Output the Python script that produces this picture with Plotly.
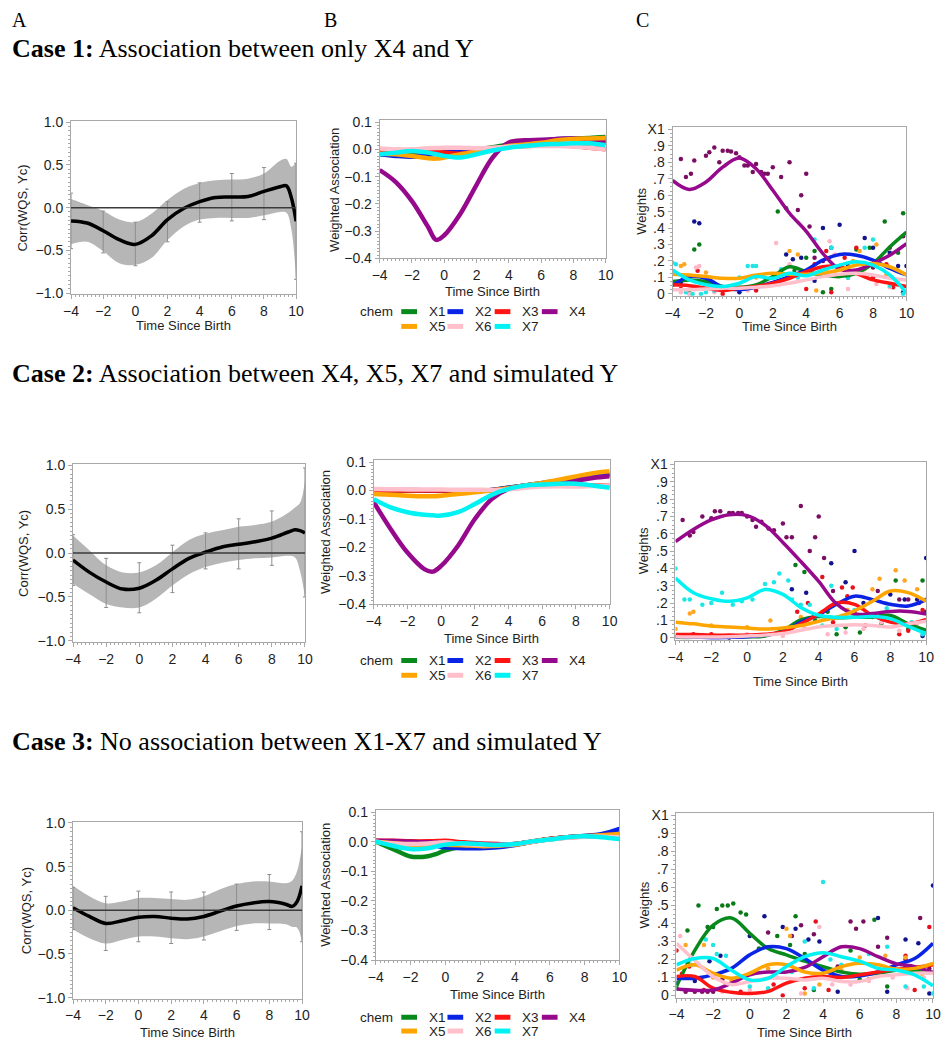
import plotly.graph_objects as go

# the page body keeps its default 8px margin, so the figure is drawn 16px smaller
PAGE_PAD = 8
W, H = 949 - 2 * PAGE_PAD, 1050 - 2 * PAGE_PAD

# ---------------- data ----------------
chems = ["X1", "X2", "X3", "X4", "X5", "X6", "X7"]
line_colors = ["#07891c", "#0a24e6", "#ff1414", "#96088c", "#ffa500", "#ffc0cb", "#00f2f2"]
dot_colors = ["#0a7a18", "#12148f", "#e8101a", "#7a0f62", "#ffa522", "#ffb6c6", "#1ee6e6"]

# column A: correlation of WQS with Yc
t_a = [-4, -3, -2, -1, 0, 1, 2, 3, 4, 5, 6, 7, 8, 9, 9.4, 9.7, 10]
a1_mean = [-0.155, -0.18, -0.27, -0.375, -0.43, -0.33, -0.14, -0.01, 0.07, 0.12, 0.125, 0.13, 0.19, 0.245, 0.255, 0.12, -0.16]
a1_upper = [0.1, 0.03, -0.04, -0.14, -0.17, -0.07, 0.09, 0.22, 0.29, 0.32, 0.33, 0.34, 0.4, 0.55, 0.57, 0.48, 0.53]
a1_lower = [-0.43, -0.4, -0.51, -0.65, -0.67, -0.59, -0.38, -0.22, -0.14, -0.12, -0.12, -0.12, -0.09, -0.05, -0.06, -0.25, -0.84]
a2_mean = [-0.08, -0.22, -0.33, -0.41, -0.4, -0.31, -0.18, -0.06, 0.01, 0.07, 0.10, 0.13, 0.17, 0.24, 0.265, 0.255, 0.23]
a2_upper = [0.2, 0.03, -0.14, -0.22, -0.22, -0.14, 0.01, 0.15, 0.22, 0.26, 0.3, 0.32, 0.36, 0.46, 0.52, 0.57, 0.83]
a2_lower = [-0.35, -0.47, -0.58, -0.62, -0.62, -0.52, -0.37, -0.24, -0.16, -0.11, -0.08, -0.06, -0.05, -0.03, -0.05, -0.2, -0.5]
a3_mean = [0.03, -0.07, -0.15, -0.12, -0.08, -0.07, -0.09, -0.1, -0.07, -0.01, 0.05, 0.085, 0.1, 0.07, 0.045, 0.1, 0.28]
a3_upper = [0.28, 0.16, 0.08, 0.1, 0.14, 0.14, 0.13, 0.12, 0.16, 0.24, 0.3, 0.33, 0.33, 0.31, 0.34, 0.45, 0.74]
a3_lower = [-0.22, -0.32, -0.38, -0.34, -0.3, -0.3, -0.32, -0.33, -0.3, -0.24, -0.18, -0.15, -0.15, -0.16, -0.19, -0.2, -0.36]

t_bar = [-4, -2, 0, 2, 4, 6, 8, 10]
a1_bar_hi = [0.17, -0.04, -0.17, 0.07, 0.29, 0.4, 0.47, 0.52]
a1_bar_lo = [-0.48, -0.53, -0.68, -0.4, -0.17, -0.155, -0.14, -0.84]
a2_bar_hi = [0.21, -0.06, -0.11, 0.09, 0.23, 0.39, 0.48, 0.97]
a2_bar_lo = [-0.37, -0.62, -0.68, -0.45, -0.18, -0.18, -0.14, -0.5]
a3_bar_hi = [0.26, 0.16, 0.22, 0.21, 0.21, 0.3, 0.41, 0.9]
a3_bar_lo = [-0.22, -0.46, -0.36, -0.38, -0.34, -0.23, -0.22, -0.36]

# column B: weighted association per chemical
t_b = [-4, -3, -2, -1, -0.5, 0, 1, 2, 3, 4, 5, 6, 7, 8, 9, 10]
b1_x1 = [-0.016, -0.021, -0.021, -0.016, -0.011, -0.006, -0.004, 0, 0.008, 0.018, 0.028, 0.033, 0.036, 0.04, 0.042, 0.045]
b1_x2 = [-0.018, -0.024, -0.027, -0.021, -0.016, -0.012, -0.006, -0.004, 0.002, 0.012, 0.021, 0.03, 0.038, 0.038, 0.03, 0.024]
b1_x3 = [-0.006, -0.004, -0.006, -0.008, -0.01, -0.012, -0.016, -0.006, 0.004, 0.01, 0.012, 0.015, 0.016, 0.012, 0.006, 0]
b1_x4 = [-0.076, -0.12, -0.19, -0.285, -0.332, -0.315, -0.236, -0.13, -0.03, 0.025, 0.033, 0.035, 0.038, 0.04, 0.036, 0.03]
b1_x5 = [-0.016, -0.018, -0.024, -0.033, -0.034, -0.03, -0.018, -0.01, 0, 0.012, 0.018, 0.024, 0.033, 0.038, 0.04, 0.042]
b1_x6 = [0.003, 0, 0, 0.004, 0.005, 0.006, 0.006, 0.004, 0.006, 0.01, 0.012, 0.012, 0.012, 0.01, 0.006, 0]
b1_x7 = [-0.018, -0.012, -0.006, -0.012, -0.018, -0.024, -0.03, -0.018, -0.004, 0.006, 0.012, 0.018, 0.02, 0.022, 0.022, 0.015]

b2_x1 = [0, 0, 0, 0, 0, 0, 0, 0, 0.002, 0.01, 0.018, 0.025, 0.032, 0.04, 0.048, 0.055]
b2_x2 = [0.002, 0.002, 0.002, 0.001, 0, 0, 0, 0, 0.002, 0.01, 0.018, 0.027, 0.035, 0.042, 0.051, 0.059]
b2_x3 = [0, 0, 0, 0, 0, 0, 0, 0, 0.001, 0.008, 0.015, 0.018, 0.02, 0.02, 0.018, 0.018]
b2_x4 = [-0.041, -0.135, -0.218, -0.276, -0.285, -0.265, -0.194, -0.1, -0.03, 0.006, 0.018, 0.024, 0.03, 0.035, 0.044, 0.05]
b2_x5 = [-0.012, -0.015, -0.018, -0.02, -0.02, -0.018, -0.012, -0.006, 0, 0.008, 0.018, 0.027, 0.038, 0.05, 0.061, 0.068]
b2_x6 = [0.006, 0.005, 0.004, 0.004, 0.004, 0.004, 0.003, 0.003, 0.002, 0.004, 0.01, 0.014, 0.015, 0.014, 0.016, 0.018]
b2_x7 = [-0.03, -0.059, -0.076, -0.085, -0.087, -0.088, -0.076, -0.047, -0.015, 0.006, 0.018, 0.021, 0.024, 0.024, 0.018, 0.01]

b3_x1 = [0, -0.025, -0.05, -0.049, -0.041, -0.029, -0.017, -0.014, -0.014, -0.008, 0.001, 0.009, 0.015, 0.019, 0.02, 0.02]
b3_x2 = [0, 0, 0, -0.008, -0.014, -0.019, -0.022, -0.022, -0.019, -0.011, 0, 0.009, 0.015, 0.019, 0.026, 0.043]
b3_x3 = [0.003, 0.003, 0.001, 0.001, 0.002, 0.003, -0.002, -0.006, -0.008, -0.008, 0, 0.009, 0.015, 0.018, 0.018, 0.017]
b3_x4 = [0.003, 0.002, 0, -0.002, -0.003, -0.004, -0.006, -0.008, -0.01, -0.008, 0, 0.008, 0.014, 0.018, 0.022, 0.025]
b3_x5 = [0, -0.005, -0.01, -0.01, -0.01, -0.01, -0.012, -0.015, -0.014, -0.01, 0, 0.008, 0.014, 0.018, 0.022, 0.026]
b3_x6 = [0, -0.006, -0.008, -0.006, -0.004, -0.002, -0.008, -0.011, -0.011, -0.008, 0, 0.007, 0.013, 0.017, 0.017, 0.015]
b3_x7 = [0, -0.014, -0.025, -0.022, -0.016, -0.01, -0.005, -0.008, -0.011, -0.008, 0.001, 0.007, 0.015, 0.018, 0.015, 0.009]

# column C: smoothed weights per chemical
t_c = [-4, -3, -2, -1, 0, 1, 2, 3, 4, 5, 6, 7, 8, 9, 10]
c1_x1 = [0.075, 0.085, 0.075, 0.045, 0.04, 0.055, 0.105, 0.165, 0.135, 0.115, 0.105, 0.125, 0.185, 0.285, 0.375]
c1_x2 = [0.05, 0.105, 0.095, 0.04, 0.025, 0.04, 0.07, 0.105, 0.145, 0.205, 0.24, 0.235, 0.205, 0.155, 0.115]
c1_x3 = [0.055, 0.05, 0.035, 0.02, 0.035, 0.045, 0.065, 0.095, 0.135, 0.165, 0.165, 0.125, 0.085, 0.065, 0.045]
c1_x4 = [0.69, 0.635, 0.68, 0.77, 0.825, 0.76, 0.63, 0.49, 0.38, 0.245, 0.15, 0.145, 0.185, 0.235, 0.305]
c1_x5 = [0.12, 0.115, 0.105, 0.095, 0.095, 0.115, 0.125, 0.12, 0.12, 0.125, 0.145, 0.175, 0.185, 0.165, 0.115]
c1_x6 = [0.025, 0.025, 0.03, 0.035, 0.035, 0.04, 0.05, 0.065, 0.085, 0.105, 0.12, 0.125, 0.115, 0.095, 0.085]
c1_x7 = [0.145, 0.085, 0.055, 0.045, 0.065, 0.105, 0.095, 0.125, 0.11, 0.145, 0.175, 0.195, 0.175, 0.115, 0.005]

c2_x1 = [0.002, 0.002, 0.004, 0.006, 0.006, 0.01, 0.043, 0.103, 0.122, 0.115, 0.118, 0.12, 0.128, 0.08, 0.043]
c2_x2 = [0.006, 0.004, 0.0, 0.002, 0.006, 0.015, 0.034, 0.09, 0.133, 0.193, 0.24, 0.22, 0.193, 0.183, 0.22]
c2_x3 = [0.019, 0.018, 0.015, 0.015, 0.015, 0.02, 0.033, 0.08, 0.137, 0.2, 0.193, 0.128, 0.09, 0.08, 0.105]
c2_x4 = [0.555, 0.625, 0.68, 0.71, 0.705, 0.65, 0.55, 0.44, 0.325, 0.195, 0.137, 0.14, 0.152, 0.152, 0.137]
c2_x5 = [0.09, 0.08, 0.068, 0.062, 0.056, 0.05, 0.056, 0.07, 0.095, 0.118, 0.155, 0.21, 0.27, 0.26, 0.21]
c2_x6 = [0.006, 0.004, 0.004, 0.006, 0.01, 0.015, 0.024, 0.043, 0.062, 0.07, 0.075, 0.07, 0.062, 0.08, 0.095]
c2_x7 = [0.345, 0.26, 0.225, 0.21, 0.23, 0.278, 0.25, 0.175, 0.13, 0.118, 0.118, 0.122, 0.11, 0.066, 0.025]

c3_x1 = [0.05, 0.25, 0.39, 0.43, 0.345, 0.26, 0.225, 0.19, 0.16, 0.13, 0.118, 0.123, 0.14, 0.14, 0.127]
c3_x2 = [0.095, 0.095, 0.114, 0.15, 0.225, 0.27, 0.26, 0.205, 0.14, 0.105, 0.108, 0.13, 0.17, 0.205, 0.29]
c3_x3 = [0.105, 0.105, 0.04, 0.017, 0.01, 0.022, 0.068, 0.095, 0.105, 0.1, 0.114, 0.13, 0.145, 0.155, 0.17]
c3_x4 = [0.035, 0.028, 0.03, 0.068, 0.114, 0.13, 0.13, 0.155, 0.215, 0.27, 0.26, 0.215, 0.175, 0.16, 0.127]
c3_x5 = [0.14, 0.17, 0.123, 0.095, 0.123, 0.17, 0.17, 0.13, 0.123, 0.16, 0.178, 0.17, 0.145, 0.15, 0.178]
c3_x6 = [0.29, 0.195, 0.105, 0.06, 0.077, 0.095, 0.095, 0.086, 0.095, 0.077, 0.077, 0.105, 0.114, 0.123, 0.123]
c3_x7 = [0.17, 0.205, 0.205, 0.14, 0.086, 0.095, 0.16, 0.215, 0.237, 0.215, 0.19, 0.15, 0.14, 0.114, 0.053]

# column C: raw weights (time, weight)
c1_pts_x1 = [(-3.0, 0.02), (-2.7, 0.27), (-2.4, 0.30), (2.3, 0.50), (2.8, 0.52), (3.3, 0.14), (4.0, 0.22), (4.5, 0.26), (5.0, 0.01), (5.5, 0.03), (6.5, 0.10), (7.0, 0.27), (7.8, 0.28), (8.7, 0.44), (9.5, 0.25), (9.8, 0.49)]
c1_pts_x2 = [(-3.5, 0.07), (-2.7, 0.44), (-2.4, 0.43), (-1.0, 0.02), (0.0, 0.01), (1.0, 0.05), (2.0, 0.06), (2.8, 0.24), (3.2, 0.21), (3.7, 0.22), (4.5, 0.08), (5.0, 0.40), (5.5, 0.28), (6.0, 0.42), (6.5, 0.17), (7.5, 0.34), (8.0, 0.28), (9.0, 0.25), (9.5, 0.17), (9.8, 0.01), (10.0, 0.17)]
c1_pts_x3 = [(-3.5, 0.03), (-2.5, 0.14), (-2.0, 0.07), (-1.0, 0.0), (1.0, 0.02), (3.0, 0.10), (4.0, 0.03), (4.5, 0.18), (5.2, 0.26), (5.5, 0.01), (6.3, 0.22), (7.0, 0.28), (7.3, 0.12), (8.0, 0.10), (8.8, 0.18), (9.2, 0.04)]
c1_pts_x4 = [(-3.5, 0.82), (-3.2, 0.71), (-2.9, 0.73), (-2.7, 0.81), (-2.0, 0.84), (-1.8, 0.86), (-1.5, 0.89), (-1.2, 0.80), (-1.0, 0.87), (-0.7, 0.87), (-0.5, 0.865), (-0.2, 0.855), (0.0, 0.83), (0.3, 0.78), (0.5, 0.78), (0.8, 0.74), (1.0, 0.79), (1.3, 0.74), (1.5, 0.73), (1.7, 0.73), (2.0, 0.77), (2.5, 0.71), (3.0, 0.80), (3.5, 0.51), (3.7, 0.60), (4.0, 0.73), (4.2, 0.41), (4.5, 0.22), (5.0, 0.20), (6.0, 0.17), (7.0, 0.13), (8.0, 0.16), (9.0, 0.28), (9.8, 0.35)]
c1_pts_x5 = [(-3.5, 0.17), (-3.3, 0.18), (-2.0, 0.13), (1.0, 0.10), (3.0, 0.26), (3.5, 0.24), (4.6, 0.02), (5.3, 0.13), (6.8, 0.20), (7.2, 0.26), (8.2, 0.30), (8.8, 0.12), (9.5, 0.14)]
c1_pts_x6 = [(-3.5, 0.01), (-3.0, 0.0), (-2.6, 0.16), (-2.4, 0.17), (-1.5, 0.01), (0.5, 0.02), (2.2, 0.31), (3.0, 0.18), (3.5, 0.13), (5.4, 0.32), (5.7, 0.24), (6.5, 0.03), (7.5, 0.15), (8.2, 0.06), (9.0, 0.04), (9.5, 0.08)]
c1_pts_x7 = [(-4.0, 0.19), (-3.8, 0.18), (-3.2, 0.01), (-2.8, 0.0), (-2.3, 0.0), (-2.0, 0.01), (-1.5, 0.02), (0.0, 0.10), (0.5, 0.17), (0.8, 0.17), (1.0, 0.17), (1.5, 0.10), (2.5, 0.15), (3.5, 0.10), (4.5, 0.33), (5.5, 0.28), (6.5, 0.10), (7.5, 0.28), (8.0, 0.33), (9.0, 0.05), (9.8, 0.0)]

c2_pts_x1 = [(2.7, 0.42), (3.2, 0.38), (3.8, 0.10), (4.5, 0.15), (5.0, 0.02), (5.5, 0.06), (6.3, 0.03), (7.0, 0.12), (7.5, 0.08), (8.3, 0.33), (9.0, 0.05), (9.8, 0.33)]
c2_pts_x2 = [(-1.0, 0.0), (2.5, 0.28), (3.3, 0.26), (4.7, 0.43), (5.5, 0.32), (6.0, 0.50), (6.5, 0.20), (7.5, 0.13), (8.0, 0.25), (8.8, 0.22), (9.5, 0.22), (9.8, 0.01), (10.0, 0.46)]
c2_pts_x3 = [(-3.0, 0.02), (-2.0, 0.02), (2.8, 0.15), (3.4, 0.20), (4.2, 0.35), (4.8, 0.09), (5.3, 0.29), (5.6, 0.24), (5.9, 0.29), (6.6, 0.07), (8.5, 0.02), (9.0, 0.04), (9.8, 0.16)]
c2_pts_x4 = [(-3.6, 0.68), (-3.2, 0.59), (-3.0, 0.61), (-2.5, 0.70), (-2.0, 0.69), (-1.8, 0.73), (-1.5, 0.73), (-1.0, 0.72), (-0.8, 0.72), (-0.5, 0.72), (-0.3, 0.72), (0.0, 0.70), (0.3, 0.68), (0.5, 0.64), (0.8, 0.67), (1.2, 0.63), (1.5, 0.62), (2.0, 0.66), (2.2, 0.58), (2.5, 0.58), (3.0, 0.76), (3.5, 0.50), (3.8, 0.58), (4.0, 0.70), (4.3, 0.46), (4.8, 0.27), (6.0, 0.15), (7.3, 0.27), (8.5, 0.22), (9.0, 0.22), (9.6, 0.20), (10.0, 0.15)]
c2_pts_x5 = [(-4.0, 0.05), (-3.2, 0.14), (-3.0, 0.15), (-2.0, 0.07), (0.0, 0.06), (1.3, 0.10), (3.0, 0.12), (4.2, 0.15), (5.6, 0.16), (6.5, 0.13), (7.0, 0.28), (7.4, 0.34), (8.3, 0.39), (8.8, 0.33), (9.5, 0.28), (10.0, 0.22)]
c2_pts_x6 = [(-3.0, 0.01), (0.0, 0.02), (2.0, 0.01), (3.2, 0.06), (4.5, 0.02), (5.5, 0.03), (6.5, 0.05), (7.5, 0.09), (8.5, 0.04), (9.5, 0.08)]
c2_pts_x7 = [(-4.0, 0.40), (-3.5, 0.22), (-3.2, 0.22), (-2.5, 0.19), (-2.0, 0.20), (-1.4, 0.26), (-0.8, 0.19), (-0.3, 0.21), (0.3, 0.22), (1.0, 0.31), (1.5, 0.32), (1.8, 0.37), (2.3, 0.33), (2.5, 0.22), (3.0, 0.19), (3.5, 0.19), (4.2, 0.07), (4.7, 0.30), (5.0, 0.05), (6.0, 0.16), (7.8, 0.17), (8.5, 0.09), (9.2, 0.09), (9.8, 0.02)]

c3_pts_x1 = [(-4.0, 0.04), (-3.4, 0.36), (-2.8, 0.50), (-2.3, 0.38), (-2.0, 0.38), (-1.8, 0.48), (-1.5, 0.50), (-1.2, 0.50), (-0.9, 0.51), (-0.5, 0.46), (-0.2, 0.45), (0.5, 0.26), (1.5, 0.33), (2.2, 0.28), (2.5, 0.44), (3.0, 0.23), (3.5, 0.03), (4.5, 0.13), (5.5, 0.25), (6.0, 0.09), (6.8, 0.42), (7.5, 0.05), (8.5, 0.16), (9.5, 0.13)]
c3_pts_x2 = [(-4.0, 0.07), (-3.0, 0.08), (-2.2, 0.19), (-1.6, 0.22), (0.0, 0.33), (0.8, 0.44), (1.8, 0.38), (2.5, 0.37), (3.2, 0.31), (3.8, 0.30), (4.8, 0.02), (6.0, 0.11), (7.0, 0.43), (7.5, 0.02), (8.5, 0.31), (9.2, 0.29), (9.8, 0.01), (10.0, 0.61)]
c3_pts_x3 = [(-4.0, 0.25), (-3.7, 0.12), (-3.3, 0.16), (-2.5, 0.03), (-0.5, 0.02), (1.3, 0.06), (1.8, 0.0), (3.0, 0.04), (3.6, 0.41), (4.3, 0.03), (6.5, 0.09), (7.5, 0.14), (8.5, 0.22), (9.0, 0.03), (9.8, 0.38)]
c3_pts_x4 = [(-3.5, 0.02), (-3.0, 0.02), (-2.6, 0.02), (-2.3, 0.02), (-2.0, 0.02), (-1.5, 0.09), (1.0, 0.35), (2.3, 0.33), (2.8, 0.39), (3.5, 0.34), (4.8, 0.16), (5.5, 0.41), (5.8, 0.37), (6.2, 0.41), (7.0, 0.27), (7.5, 0.32), (8.5, 0.20), (9.3, 0.43), (9.8, 0.15)]
c3_pts_x5 = [(-3.5, 0.28), (-2.5, 0.28), (-2.0, 0.10), (-1.0, 0.08), (1.0, 0.15), (2.0, 0.37), (2.2, 0.33), (3.0, 0.01), (3.8, 0.06), (5.0, 0.14), (6.0, 0.21), (7.4, 0.22), (8.5, 0.21), (9.4, 0.12), (10.0, 0.17)]
c3_pts_x6 = [(-3.8, 0.33), (-3.0, 0.17), (-1.5, 0.02), (0.0, 0.03), (1.5, 0.10), (2.8, 0.01), (3.8, 0.38), (4.5, 0.06), (5.5, 0.06), (6.5, 0.08), (7.8, 0.10), (8.6, 0.04), (9.5, 0.10)]
c3_pts_x7 = [(-3.2, 0.17), (-2.4, 0.31), (-2.0, 0.28), (-1.8, 0.23), (-1.3, 0.22), (0.0, 0.05), (1.0, 0.04), (2.3, 0.13), (3.0, 0.30), (3.5, 0.04), (4.0, 0.63), (4.4, 0.20), (5.0, 0.17), (6.5, 0.23), (7.5, 0.27), (8.5, 0.05), (9.5, 0.05), (10.0, 0.01)]

headings = [
    "<b>Case 1:</b> Association between only X4 and Y",
    "<b>Case 2:</b> Association between X4, X5, X7 and simulated Y",
    "<b>Case 3:</b> No association between X1-X7 and simulated Y",
]

# ---------------- layout geometry (page pixels) ----------------
boxes = {
    1: (64, 293, 116, 291), 2: (378, 608, 115, 255), 3: (676, 914, 122, 293),
    4: (66, 302, 464, 644), 5: (372, 612, 460, 606), 6: (679, 934, 462, 642),
    7: (66, 299, 827, 1006), 8: (374, 622, 815, 967), 9: (680, 941, 818, 1005),
}
xtitle_y = {1: 323, 2: 289, 3: 324, 5: 641, 6: 684, 7: 1040, 8: 1002, 9: 1040}
ytitle_x = {1: 15, 2: 332, 3: 645, 4: 15, 5: 323, 6: 646, 7: 18, 8: 323, 9: 647}
heading_y = [42, 372, 745]
legend_rows = {2: (309, 324), 5: (663, 678), 8: (1025, 1039)}


def px(x):
    return (x - PAGE_PAD) / W


def py(y):
    return 1 - (y - PAGE_PAD) / H


SANS = "Liberation Sans, Arial, sans-serif"
SERIF = "Liberation Serif, Times New Roman, serif"
FRAME = "#a8a8a8"
TXT = "#1e1e1e"

fig = go.Figure()


def ax(i):
    return ("x" if i == 1 else f"x{i}"), ("y" if i == 1 else f"y{i}")


def add_corr_panel(i, mean, upper, lower, bar_lo, bar_hi):
    xa, ya = ax(i)
    fig.add_trace(go.Scatter(x=t_a, y=upper, mode="lines", line=dict(width=0, shape="spline"),
                             xaxis=xa, yaxis=ya, showlegend=False, hoverinfo="skip"))
    fig.add_trace(go.Scatter(x=t_a, y=lower, mode="lines", line=dict(width=0, shape="spline"),
                             fill="tonexty", fillcolor="#b6b6b6",
                             xaxis=xa, yaxis=ya, showlegend=False, hoverinfo="skip"))
    fig.add_trace(go.Scatter(
        x=t_bar, y=bar_lo, mode="markers", marker=dict(size=1, color="rgba(0,0,0,0)"),
        error_y=dict(type="data", symmetric=False,
                     array=[h - l for h, l in zip(bar_hi, bar_lo)],
                     arrayminus=[0] * len(bar_lo), color="#8e8e8e", thickness=1, width=2),
        xaxis=xa, yaxis=ya, showlegend=False, hoverinfo="skip"))
    fig.add_trace(go.Scatter(x=t_a, y=mean, mode="lines", name="Corr(WQS, Yc)",
                             line=dict(color="black", width=3.5, shape="spline"),
                             xaxis=xa, yaxis=ya, showlegend=False))
    fig.add_shape(type="line", xref=f"{xa} domain", yref=ya, x0=0, x1=1, y0=0, y1=0,
                  line=dict(color="#3a3a3a", width=1.5), layer="above")


def add_assoc_panel(i, series):
    xa, ya = ax(i)
    for name, col, vals in zip(chems, line_colors, series):
        fig.add_trace(go.Scatter(x=t_b, y=vals, mode="lines", name=name,
                                 line=dict(color=col, width=4.5, shape="spline"),
                                 xaxis=xa, yaxis=ya, showlegend=False))


def add_weight_panel(i, series, points):
    xa, ya = ax(i)
    for name, col, pts in zip(chems, dot_colors, points):
        fig.add_trace(go.Scatter(x=[p[0] for p in pts], y=[p[1] for p in pts], mode="markers",
                                 name=name, marker=dict(color=col, size=4.5),
                                 xaxis=xa, yaxis=ya, showlegend=False))
    for name, col, vals in zip(chems, line_colors, series):
        fig.add_trace(go.Scatter(x=t_c, y=vals, mode="lines", name=name,
                                 line=dict(color=col, width=3.5, shape="spline"),
                                 xaxis=xa, yaxis=ya, showlegend=False))


add_corr_panel(1, a1_mean, a1_upper, a1_lower, a1_bar_lo, a1_bar_hi)
add_corr_panel(4, a2_mean, a2_upper, a2_lower, a2_bar_lo, a2_bar_hi)
add_corr_panel(7, a3_mean, a3_upper, a3_lower, a3_bar_lo, a3_bar_hi)
add_assoc_panel(2, [b1_x1, b1_x2, b1_x3, b1_x4, b1_x5, b1_x6, b1_x7])
add_assoc_panel(5, [b2_x1, b2_x2, b2_x3, b2_x4, b2_x5, b2_x6, b2_x7])
add_assoc_panel(8, [b3_x1, b3_x2, b3_x3, b3_x4, b3_x5, b3_x6, b3_x7])
add_weight_panel(3, [c1_x1, c1_x2, c1_x3, c1_x4, c1_x5, c1_x6, c1_x7],
                 [c1_pts_x1, c1_pts_x2, c1_pts_x3, c1_pts_x4, c1_pts_x5, c1_pts_x6, c1_pts_x7])
add_weight_panel(6, [c2_x1, c2_x2, c2_x3, c2_x4, c2_x5, c2_x6, c2_x7],
                 [c2_pts_x1, c2_pts_x2, c2_pts_x3, c2_pts_x4, c2_pts_x5, c2_pts_x6, c2_pts_x7])
add_weight_panel(9, [c3_x1, c3_x2, c3_x3, c3_x4, c3_x5, c3_x6, c3_x7],
                 [c3_pts_x1, c3_pts_x2, c3_pts_x3, c3_pts_x4, c3_pts_x5, c3_pts_x6, c3_pts_x7])

# ---------------- axes ----------------
layout = {}
for i, (x0, x1, y0, y1) in boxes.items():
    xkey = "xaxis" if i == 1 else f"xaxis{i}"
    ykey = "yaxis" if i == 1 else f"yaxis{i}"
    xa, ya = ax(i)
    base = dict(showline=True, mirror=True, linecolor=FRAME, linewidth=1, showgrid=False,
                zeroline=False, ticks="outside", ticklen=4, tickcolor=FRAME,
                tickfont=dict(family=SANS, size=14, color=TXT))
    layout[xkey] = dict(base, domain=[px(x0), px(x1)], anchor=ya, range=[-4, 10],
                        tick0=0, dtick=2,
                        minor=dict(ticks="outside", ticklen=2, tickcolor=FRAME, dtick=0.25))
    kind = (i - 1) % 3
    if kind == 0:
        yextra = dict(range=[-1.01, 1.01], tick0=0, dtick=0.5, tickformat=".1f",
                      minor=dict(ticks="outside", ticklen=2, tickcolor=FRAME, dtick=0.05))
    elif kind == 1:
        yextra = dict(range=[-0.4, 0.106], tick0=0, dtick=0.1, tickformat=".1f",
                      minor=dict(ticks="outside", ticklen=2, tickcolor=FRAME, dtick=0.0125))
    else:
        yextra = dict(range=[-0.012, 1.012], tickmode="array",
                      tickvals=[0, 0.1, 0.2, 0.3, 0.4, 0.5, 0.6, 0.7, 0.8, 0.9, 1.0],
                      ticktext=["0", ".1", ".2", ".3", ".4", ".5", ".6", ".7", ".8", ".9", "X1"],
                      minor=dict(ticks="outside", ticklen=2, tickcolor=FRAME, dtick=0.025))
    layout[ykey] = dict(base, domain=[py(y1), py(y0)], anchor=xa, **yextra)

# ---------------- text ----------------
annotations = []
ytitles = ["Corr(WQS, Yc)", "Weighted Association", "Weights"]
for i, (x0, x1, y0, y1) in boxes.items():
    kind = (i - 1) % 3
    if i in xtitle_y:
        annotations.append(dict(text="Time Since Birth", xref="paper", yref="paper",
                                x=px((x0 + x1) / 2), y=py(xtitle_y[i]), showarrow=False,
                                xanchor="center", yanchor="middle",
                                font=dict(family=SANS, size=13, color=TXT)))
    annotations.append(dict(text=ytitles[kind], xref="paper", yref="paper", textangle=-90,
                            x=px(ytitle_x[i]), y=py((y0 + y1) / 2), showarrow=False,
                            xanchor="center", yanchor="middle",
                            font=dict(family=SANS, size=13, color=TXT)))

for lab, xp in zip(["A", "B", "C"], [2, 319, 637]):
    annotations.append(dict(text=lab, xref="paper", yref="paper", x=px(xp), y=py(13),
                            xanchor="left", yanchor="middle", showarrow=False,
                            font=dict(family=SERIF, size=20, color="black")))
for txt, yp in zip(headings, heading_y):
    annotations.append(dict(text=txt, xref="paper", yref="paper", x=px(2), y=py(yp),
                            xanchor="left", yanchor="middle", showarrow=False,
                            font=dict(family=SERIF, size=26, color="black")))

# manual "chem" legends under column B
shapes = []
entry_x = [400, 447, 495, 543]
for i, (r1, r2) in legend_rows.items():
    annotations.append(dict(text="chem", xref="paper", yref="paper", x=px(375), y=py(r1),
                            xanchor="center", yanchor="middle", showarrow=False,
                            font=dict(family=SANS, size=13.5, color=TXT)))
    for k, (name, col) in enumerate(zip(chems, line_colors)):
        row_y = r1 if k < 4 else r2
        sx = entry_x[k % 4]
        shapes.append(dict(type="line", xref="paper", yref="paper",
                           x0=px(sx), x1=px(sx + 16), y0=py(row_y), y1=py(row_y),
                           line=dict(color=col, width=5)))
        annotations.append(dict(text=name, xref="paper", yref="paper", x=px(sx + 26),
                                y=py(row_y), xanchor="left", yanchor="middle",
                                showarrow=False,
                                font=dict(family=SANS, size=13.5, color=TXT)))

fig.update_layout(
    width=W, height=H, margin=dict(l=0, r=0, t=0, b=0),
    paper_bgcolor="white", plot_bgcolor="white", showlegend=False,
    annotations=annotations, **layout,
)
for s in shapes:
    fig.add_shape(**s)

fig.write_html("out.html")
